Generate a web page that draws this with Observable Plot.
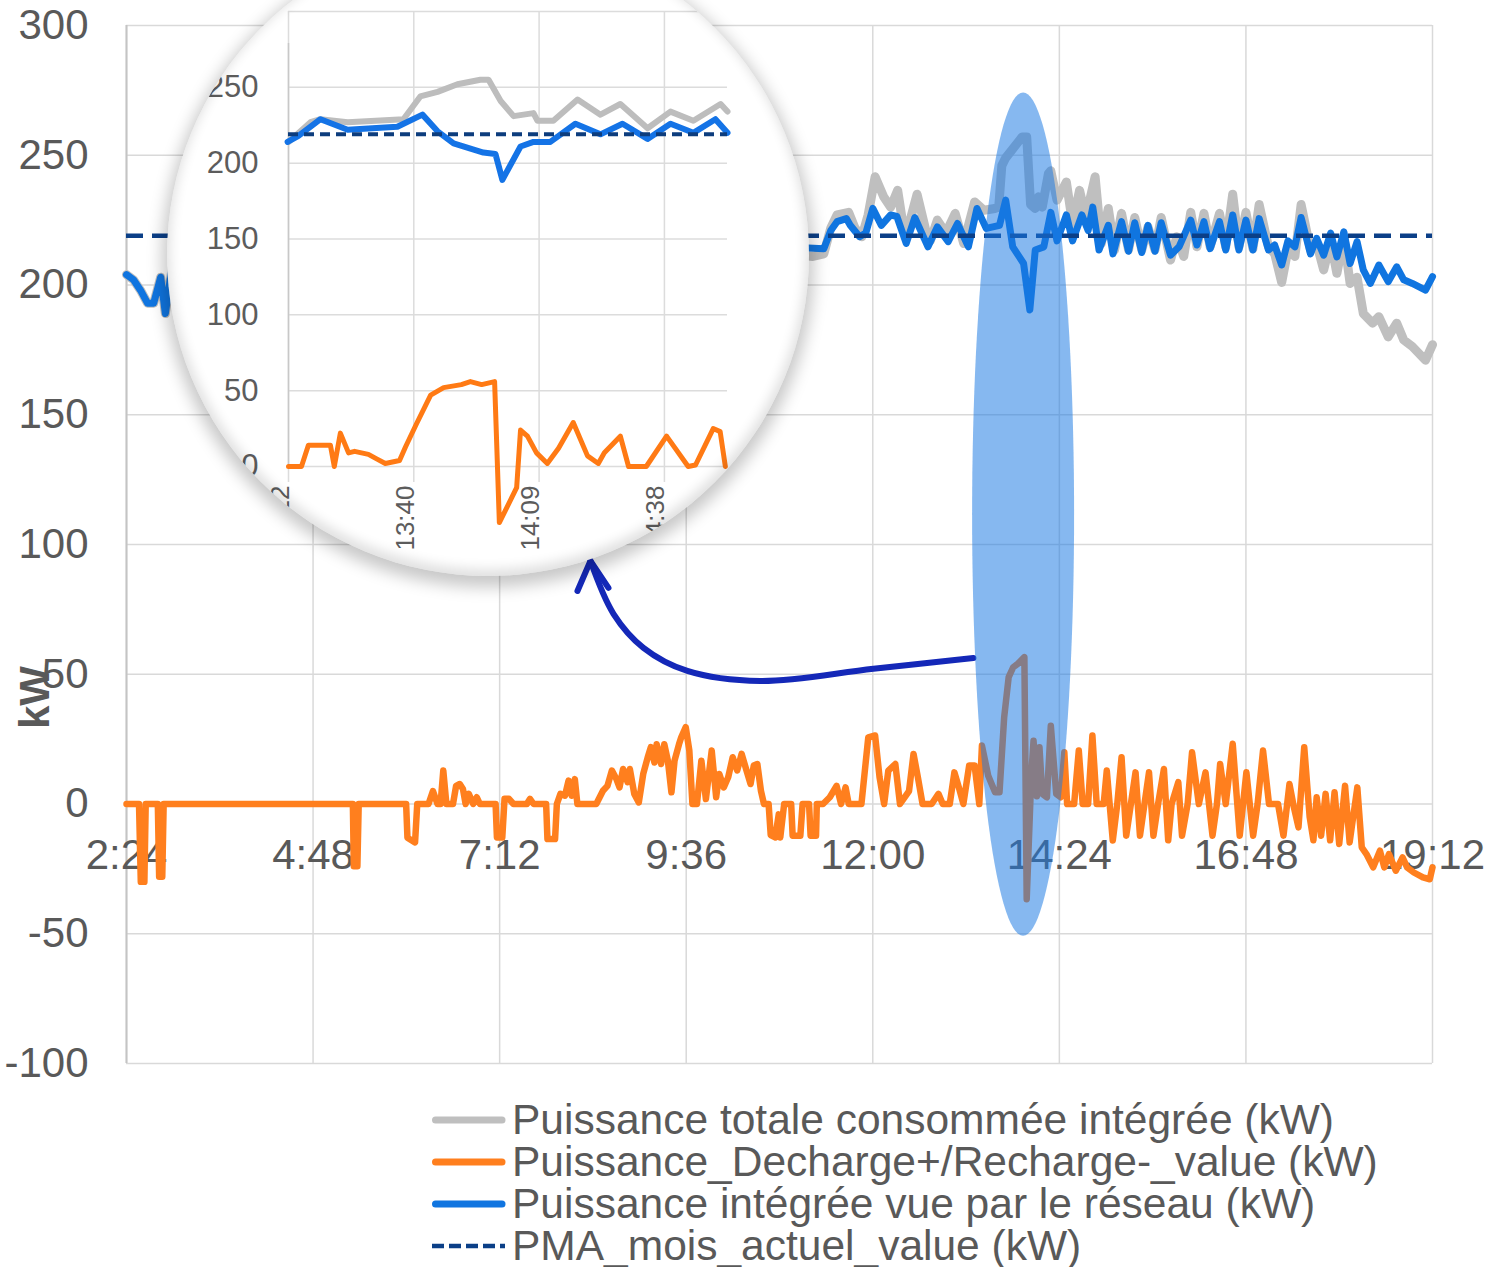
<!DOCTYPE html>
<html><head><meta charset="utf-8">
<script src="https://cdn.jsdelivr.net/npm/d3@7"></script>
<script src="https://cdn.jsdelivr.net/npm/@observablehq/plot@0.6"></script>
<style>
body{margin:0;background:#fff;font-family:"Liberation Sans",Arial,sans-serif;}
#wrap{position:relative;width:1489px;height:1267px;overflow:hidden;background:#fff;}
</style></head><body><div id="wrap"></div>
<script>
// ---------- main chart data (time in decimal hours, values in kW) ----------
const xTicks = [2.4, 4.8, 7.2, 9.6, 12, 14.4, 16.8, 19.2];
const yTicks = [-100, -50, 0, 50, 100, 150, 200, 250, 300];
const pmaValue = 219;
const seriesNames = [
  "Puissance totale consommée intégrée (kW)",
  "Puissance_Decharge+/Recharge-_value (kW)",
  "Puissance intégrée vue par le réseau (kW)",
  "PMA_mois_actuel_value (kW)"
];
const seriesColors = ["#bfbfbf", "#ff7f1e", "#1075e0", "#0b3f87"];

const grayMain = [
  [2.4,204],[2.49,202],[2.58,198],[2.67,193],[2.75,193],[2.84,203],[2.9,189],[2.99,207],[3.05,null],
  [10.9,212],[11.23,211],[11.37,212],[11.46,222],[11.54,227],[11.69,228],[11.77,222],[11.86,218.6],[11.94,227],
  [12.03,241.7],[12.14,234],[12.23,230],[12.32,236.5],[12.4,221],[12.49,226],[12.57,235],[12.69,220],[12.74,217],
  [12.83,225],[12.94,220],[13.06,227.6],[13.17,216],[13.31,232],[13.43,228.8],[13.57,229.5],[13.62,230],[13.66,246],
  [13.71,249],[13.92,257],[13.98,257],[14.03,231],[14.09,229.5],[14.13,234],[14.18,230],[14.26,243],[14.29,244],
  [14.37,232.7],[14.49,239.7],[14.57,223.7],[14.66,236.5],[14.74,226],[14.86,241.7],[14.94,216],[15.03,229.5],
  [15.11,213.5],[15.2,227.6],[15.29,213.5],[15.37,226],[15.46,213.5],[15.54,222.4],[15.63,213.5],[15.71,226],
  [15.83,209.6],[15.91,218.6],[16.0,211],[16.09,228],[16.17,214.7],[16.26,227.6],[16.34,214.7],[16.46,227.6],
  [16.54,214.7],[16.63,235],[16.71,214.7],[16.8,228],[16.89,214],[16.97,231],[17.09,214.7],[17.17,212],[17.26,201],
  [17.34,213.5],[17.43,211],[17.51,231],[17.63,213.5],[17.71,216],[17.8,205.8],[17.89,217],[17.97,204.5],
  [18.06,218.6],[18.14,200.6],[18.23,203],[18.31,189],[18.43,185.3],[18.51,187.8],[18.63,180],[18.74,185.3],
  [18.83,178.8],[18.94,176.3],[19.11,171],[19.2,177]
];
const blueMain = [
  [2.4,204],[2.49,202],[2.58,198],[2.67,193],[2.75,193],[2.84,203],[2.9,189],[2.99,208],[3.05,null],
  [10.83,214.7],[11.37,214],[11.46,221],[11.54,224.4],[11.66,225.6],[11.71,223],[11.83,218.6],[11.91,220],
  [12.0,229.5],[12.11,223],[12.23,227],[12.31,226.4],[12.43,216],[12.54,226],[12.71,214.7],[12.83,222.4],
  [12.97,216.7],[13.09,223.7],[13.23,214.7],[13.34,229.5],[13.46,221.8],[13.63,223],[13.71,232.7],[13.8,214.7],
  [13.94,208.3],[14.02,190.4],[14.09,213.5],[14.2,214.7],[14.29,228],[14.37,217],[14.49,227],[14.57,217],
  [14.69,227],[14.77,221],[14.83,230],[14.91,213.5],[15.03,223],[15.09,212],[15.2,224.4],[15.29,213],[15.37,224],
  [15.46,212.5],[15.54,223],[15.63,213],[15.71,224],[15.83,211.5],[15.94,214.7],[16.09,225],[16.17,215.4],
  [16.26,224.4],[16.34,214],[16.46,224.4],[16.54,213.5],[16.63,227],[16.71,213.5],[16.8,225],[16.89,213.5],
  [16.97,225.6],[17.09,213.5],[17.17,215.4],[17.26,207.7],[17.34,217],[17.43,214.7],[17.51,226],[17.63,212],
  [17.71,218],[17.8,211.5],[17.89,220],[17.97,210.8],[18.06,220.5],[18.14,208.3],[18.23,216.7],[18.31,205.8],
  [18.4,200.6],[18.51,207.7],[18.63,201.3],[18.74,207],[18.83,202],[18.94,200.6],[19.11,198],[19.2,203.2]
];
const orangeMain = [
  [2.4,0],[2.561,0],[2.584,-30],[2.63,-30],[2.647,0],[2.803,0],[2.82,-28],[2.86,-28],[2.878,0],[5.312,0],[5.324,-24],
  [5.37,-24],[5.387,0],[5.997,0],[6.014,-13],[6.112,-14.8],[6.14,0],[6.285,0],[6.342,5],[6.4,0],[6.44,0],[6.475,12.9],
  [6.515,0],[6.6,0],[6.64,7],[6.687,7.7],[6.728,5.8],[6.762,0],[6.803,3.9],[6.86,0],[6.906,2.6],[6.946,0],[7.148,0],
  [7.165,-12.9],[7.234,-12.9],[7.263,2],[7.32,2],[7.378,0],[7.55,0],[7.59,2],[7.637,0],[7.798,0],[7.815,-13.5],
  [7.913,-13.5],[7.936,0],[7.982,3.9],[8.04,3.2],[8.086,9],[8.126,3.2],[8.167,9.6],[8.2,0],[8.443,0],[8.529,5.1],
  [8.587,7],[8.644,12.9],[8.702,9.6],[8.742,6.4],[8.788,13.5],[8.846,8.4],[8.875,13.5],[8.932,3.9],[8.99,0.6],
  [9.047,11.6],[9.105,18],[9.145,21.9],[9.191,16],[9.22,23],[9.277,15.4],[9.318,23],[9.364,16.7],[9.41,4.5],
  [9.45,16.7],[9.507,23],[9.536,25.7],[9.594,29.6],[9.64,20.6],[9.68,0],[9.738,0],[9.795,16.7],[9.853,1.9],
  [9.928,20.6],[9.985,2.6],[10.026,11.6],[10.083,6.4],[10.14,10.3],[10.198,18],[10.256,12.9],[10.313,19.3],
  [10.37,13.5],[10.428,7.7],[10.469,14.8],[10.515,15.4],[10.561,5.1],[10.6,0],[10.66,0],[10.687,-12],[10.745,-12.9],
  [10.79,-4],[10.81,-12.9],[10.86,0],[10.95,0],[10.969,-12.2],[11.068,-12.2],[11.097,0],[11.18,0],[11.2,-12.2],
  [11.27,-12.2],[11.28,0],[11.36,0],[11.447,2.6],[11.534,7],[11.592,0],[11.65,6.4],[11.69,0],[11.854,0],
  [11.942,25.7],[12.03,26.4],[12.087,10.3],[12.146,0],[12.2,12.9],[12.29,15.4],[12.35,0],[12.466,5],[12.524,19.3],
  [12.58,10.3],[12.64,0],[12.757,0],[12.845,3.9],[12.9,0],[12.99,0],[13.05,12.2],[13.107,6.4],[13.165,0],
  [13.24,14.8],[13.31,14.8],[13.37,0],[13.404,22.5],[13.485,10.9],[13.573,4.5],[13.63,4.5],[13.69,33.4],
  [13.748,48.9],[13.806,52.7],[13.864,54],[13.95,56.6],[13.98,-36.7],[14.04,11.6],[14.068,24.4],[14.11,3],
  [14.144,21.9],[14.18,3.9],[14.24,2.6],[14.29,30.2],[14.36,3.9],[14.417,2.6],[14.464,19.9],[14.5,0],[14.59,0],
  [14.65,20.6],[14.7,0],[14.77,0],[14.825,26.4],[14.88,0],[14.97,0],[15.01,12.9],[15.087,-14.1],[15.145,0],
  [15.2,18],[15.26,-12.2],[15.32,0],[15.38,12.2],[15.437,-12.2],[15.495,0],[15.553,12.2],[15.61,-12.2],[15.67,0],
  [15.745,13.5],[15.8,-14],[15.844,0],[15.93,8.4],[15.978,-12.2],[16.05,0],[16.107,19.9],[16.194,0],[16.28,12.2],
  [16.37,-12.2],[16.427,0],[16.468,15.4],[16.54,0],[16.63,23.2],[16.72,-12.2],[16.806,12.2],[16.893,-12.2],
  [16.95,0],[17.02,20.6],[17.097,0],[17.213,0],[17.283,-12.2],[17.36,7.7],[17.417,-1.3],[17.476,-9],[17.55,21.9],
  [17.62,-5],[17.668,-14],[17.71,2.6],[17.767,-12.2],[17.825,3.9],[17.883,-14],[17.94,4.5],[18.0,-15.4],
  [18.075,7],[18.134,-14.8],[18.233,6.4],[18.29,-16.7],[18.35,-19.3],[18.437,-24.4],[18.524,-18],[18.58,-24.4],
  [18.64,-19.3],[18.728,-25.7],[18.815,-20.6],[18.873,-24.4],[18.96,-26.4],[19.077,-28.3],[19.165,-29],[19.2,-24.4]
];

// ---------- inset (magnifier) data: time in minutes after midnight ----------
const insetXTicks = [791, 820, 849, 878];
const insetXTickLabels = ["13:12", "13:40", "14:09", "14:38"];
const insetYTicks = [0, 50, 100, 150, 200, 250, 300];
const insetGray = [
  [791,214],[796.1,227],[798.4,229],[804.7,227],[817.6,229],[821.5,244],[825.5,247],[830.1,252],[835.4,255],
  [837.3,255],[840.1,241],[843.1,231],[847.7,233],[848.6,228],[852.3,228],[857.9,242],[863.2,232],[867.8,239],
  [874.1,223],[879.4,234],[884.7,228],[891,239],[892.6,234]
];
const insetBlue = [
  [790.8,214],[793.3,218],[798.4,229],[804.7,222],[810.4,223],[816.2,224],[822,232],[825.5,221],[829.2,213],
  [836.1,207],[838.9,206],[840.5,189],[844.7,211],[847.7,214],[851.6,214],[857.4,226],[863.2,219],[868.3,226],
  [874.1,216],[879.4,226],[884.7,220],[889.8,229],[892.6,220]
];
const insetOrange = [
  [791,0],[794,0],[795.6,14],[800.7,14],[801.6,0],[803,22],[804.9,9],[806.3,10],[809.5,8],[811.4,5],[813.4,2],
  [816.7,4],[818.1,13],[820.6,28],[823.9,47],[826.9,52],[831,54],[833.1,56],[835.7,54],[838.7,56],[839.8,-37],
  [843.8,-14],[844.7,24],[846.3,20],[848.4,9],[850.9,2],[853.5,12],[856.9,29],[860.2,7],[862.7,2],[864.1,9],
  [867.8,20],[869.7,0],[873.8,0],[878.5,20],[883.5,0],[885.2,1],[889.3,25],[890.9,23],[892.1,0]
];

// ---------- annotations (data coordinates of the main chart) ----------
const highlight = {h: 13.94, v: 111.5, rh: 0.656, rv: 162.5};
const arrowCurve = [[13.294,56.3],[12.008,52.1],[10.554,47.4],[9.615,51.3],[9.05,60.2],[8.664,73.3],[8.368,93.7]];
const arrowHead = [[8.201,82.1],[8.368,93.7],[8.6,83.3]];

// ---------- helpers ----------
const rows = arr => arr.map(([h, v]) => ({h, v}));
const fmtHM = d => { const m = Math.round(d * 60); return Math.floor(m / 60) + ":" + String(m % 60).padStart(2, "0"); };
const TXT = "#595959";
const GRID = "#d9d9d9";
const FONT = "'Liberation Sans', Arial, sans-serif";

const wrap = document.getElementById("wrap");

// ---------- main chart ----------
const main = Plot.plot({
  width: 1489, height: 1090,
  marginLeft: 126, marginRight: 57, marginTop: 25, marginBottom: 27,
  x: {domain: [2.4, 19.2], axis: null},
  y: {domain: [-100, 300], axis: null},
  style: {background: "transparent", fontFamily: FONT, overflow: "visible"},
  marks: [
    Plot.ruleY(yTicks, {stroke: GRID, strokeWidth: 1.5}),
    Plot.ruleX(xTicks, {stroke: GRID, strokeWidth: 1.5}),
    Plot.ruleX([2.4], {stroke: "#c4c4c4", strokeWidth: 2}),
    Plot.text(yTicks, {y: d => d, frameAnchor: "left", dx: -38, textAnchor: "end", text: d => String(d), fontSize: 42, fill: TXT}),
    Plot.text(xTicks, {x: d => d, y: () => 0, dy: 52, text: fmtHM, fontSize: 42, fill: TXT}),
    Plot.text(["kW"], {frameAnchor: "left", y: () => 41, dx: -91, rotate: -90, textAnchor: "middle", text: d => d, fontSize: 42, fontWeight: "bold", fill: TXT}),
    Plot.line(rows(grayMain), {x: "h", y: "v", stroke: seriesColors[0], strokeWidth: 9, strokeLinejoin: "round", strokeLinecap: "round"}),
    Plot.line(rows(blueMain), {x: "h", y: "v", stroke: seriesColors[2], strokeWidth: 7, strokeLinejoin: "round", strokeLinecap: "round"}),
    Plot.line(rows(orangeMain), {x: "h", y: "v", stroke: seriesColors[1], strokeWidth: 6.5, strokeLinejoin: "round", strokeLinecap: "round"}),
    Plot.ruleY([pmaValue], {stroke: seriesColors[3], strokeWidth: 4.5, strokeDasharray: "17,9"}),
    Plot.line(rows(arrowCurve), {x: "h", y: "v", curve: "catmull-rom", stroke: "#1428b8", strokeWidth: 6, strokeLinecap: "round"}),
    Plot.line(rows(arrowHead), {x: "h", y: "v", stroke: "#1428b8", strokeWidth: 6, strokeLinecap: "round", strokeLinejoin: "round"})
  ]
});
main.style.position = "absolute";
main.style.left = "0px";
main.style.top = "0px";
wrap.appendChild(main);

// highlight ellipse drawn through the plot's own scales
{
  const sx = main.scale("x"), sy = main.scale("y");
  const cx = sx.apply(highlight.h), cy = sy.apply(highlight.v);
  const rx = sx.apply(highlight.h + highlight.rh) - cx;
  const ry = sy.apply(highlight.v - highlight.rv) - cy;
  d3.select(main).append("ellipse")
    .attr("cx", cx).attr("cy", cy).attr("rx", rx).attr("ry", ry)
    .attr("fill", "#1a78e2").attr("fill-opacity", 0.53);
}

// ---------- magnifier inset ----------
const mag = {cx: 488, cy: 255, r: 321};
const left0 = mag.cx - mag.r, top0 = mag.cy - mag.r, size = 2 * mag.r;
const magDiv = document.createElement("div");
Object.assign(magDiv.style, {
  position: "absolute", left: left0 + "px", top: top0 + "px",
  width: size + "px", height: size + "px", borderRadius: "50%", overflow: "hidden",
  background: "#fff", boxShadow: "0 6px 16px 5px rgba(0,0,0,0.22)"
});
const inset = Plot.plot({
  width: size, height: size,
  marginLeft: 288 - left0, marginRight: left0 + size - 727,
  marginTop: 11 - top0, marginBottom: top0 + size - 466,
  x: {domain: [791, 892.6], axis: null},
  y: {domain: [0, 300], axis: null},
  style: {background: "transparent", fontFamily: FONT, overflow: "visible"},
  marks: [
    Plot.ruleY(insetYTicks, {stroke: "#dcdcdc", strokeWidth: 1.5}),
    Plot.ruleX(insetXTicks, {stroke: "#dcdcdc", strokeWidth: 1.5, insetBottom: -16}),
    Plot.ruleX([791], {stroke: "#c8c8c8", strokeWidth: 1.5, insetTop: 32}),
    Plot.text(insetYTicks, {y: d => d, frameAnchor: "left", dx: -30, textAnchor: "end", text: d => String(d), fontSize: 31, fill: "#5c5c5c"}),
    Plot.text(insetXTicks, {x: d => d, frameAnchor: "bottom", dy: 19, rotate: -90, textAnchor: "end",
      text: (d, i) => insetXTickLabels[i], fontSize: 26, fill: "#5c5c5c"}),
    Plot.line(rows(insetGray), {x: "h", y: "v", stroke: "#bdbdbd", strokeWidth: 6, strokeLinejoin: "round", strokeLinecap: "round"}),
    Plot.line(rows(insetBlue), {x: "h", y: "v", stroke: "#1473e6", strokeWidth: 6, strokeLinejoin: "round", strokeLinecap: "round"}),
    Plot.line(rows(insetOrange), {x: "h", y: "v", stroke: "#ff7a14", strokeWidth: 5, strokeLinejoin: "round", strokeLinecap: "round"}),
    Plot.ruleY([pmaValue], {stroke: "#0d3d7d", strokeWidth: 4, strokeDasharray: "10,6"})
  ]
});
inset.style.position = "absolute";
inset.style.left = "0px";
inset.style.top = "0px";
magDiv.appendChild(inset);
const vignette = document.createElement("div");
Object.assign(vignette.style, {
  position: "absolute", left: "0px", top: "0px", width: size + "px", height: size + "px",
  borderRadius: "50%", boxShadow: "inset 0 -4px 12px 3px rgba(0,0,0,0.12)", pointerEvents: "none"
});
magDiv.appendChild(vignette);
wrap.appendChild(magDiv);

// ---------- legend ----------
const legend = d3.select(wrap).append("div")
  .style("position", "absolute").style("left", "432px").style("top", "1099px");
seriesNames.forEach((name, i) => {
  const row = legend.append("div").style("display", "flex").style("align-items", "center").style("height", "42px");
  const sw = row.append("svg").attr("width", 80).attr("height", 12).style("flex", "none");
  const ln = sw.append("line").attr("x1", 3.5).attr("x2", 70).attr("y1", 6).attr("y2", 6)
    .attr("stroke", seriesColors[i]).attr("stroke-width", i === 3 ? 4.5 : 7);
  if (i === 3) ln.attr("stroke-dasharray", "12,5").attr("x1", 0).attr("x2", 73);
  else ln.attr("stroke-linecap", "round");
  row.append("span").text(name)
    .style("font-size", "42.5px").style("line-height", "42px").style("color", TXT)
    .style("font-family", FONT).style("white-space", "nowrap");
});
</script></body></html>
